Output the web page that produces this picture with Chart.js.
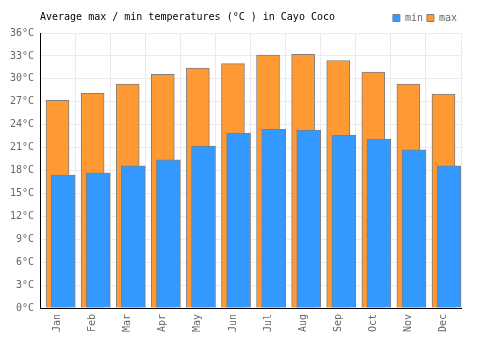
<!DOCTYPE html>
<html>
<head>
<meta charset="utf-8">
<script src="https://cdn.jsdelivr.net/npm/chart.js@4.4.0/dist/chart.umd.min.js"></script>
<style>
  html, body { margin: 0; padding: 0; background: #fff; }
</style>
</head>
<body>
<canvas id="tempChart" width="500" height="350"></canvas>
<script>
const chartTitle = 'Average max / min temperatures (°C ) in Cayo Coco';
const months = ['Jan', 'Feb', 'Mar', 'Apr', 'May', 'Jun', 'Jul', 'Aug', 'Sep', 'Oct', 'Nov', 'Dec'];
const minTemps = [17.4, 17.7, 18.6, 19.4, 21.2, 22.9, 23.4, 23.3, 22.6, 22.1, 20.7, 18.6];
const maxTemps = [27.2, 28.1, 29.3, 30.6, 31.4, 32.0, 33.1, 33.2, 32.4, 30.9, 29.3, 28.0];
const yMin = 0;
const yMax = 36;
const yStep = 3;

const monoFont = { family: '"DejaVu Sans Mono", monospace', size: 10 };

// min bars sit a bit to the right of the max bars
const minShift = 0.16;

const titlePlugin = {
  id: 'leftTitle',
  afterDraw(chart) {
    const ctx = chart.ctx;
    ctx.save();
    ctx.font = '10px "DejaVu Sans Mono", monospace';
    ctx.fillStyle = '#000';
    ctx.textBaseline = 'middle';
    ctx.textAlign = 'left';
    ctx.fillText(chartTitle, chart.chartArea.left, 17);
    ctx.restore();
  }
};

const ctx = document.getElementById('tempChart').getContext('2d');
new Chart(ctx, {
  type: 'bar',
  data: {
    labels: months,
    datasets: [
      {
        label: 'min',
        data: minTemps.map((v, i) => ({ x: i + minShift, y: v })),
        xAxisID: 'x2',
        backgroundColor: '#3399ff',
        borderColor: '#7f7f7f',
        borderWidth: 1,
        barThickness: 24,
        grouped: false
      },
      {
        label: 'max',
        data: maxTemps,
        xAxisID: 'x',
        backgroundColor: '#ff9933',
        borderColor: '#7f7f7f',
        borderWidth: 1,
        barThickness: 23,
        grouped: false
      }
    ]
  },
  options: {
    responsive: false,
    animation: false,
    layout: {
      padding: { left: 0, right: 39, top: 9, bottom: 0 }
    },
    scales: {
      x: {
        type: 'category',
        offset: true,
        grid: { color: '#ebebeb', offset: true, drawTicks: false },
        border: { color: '#000', width: 1 },
        ticks: {
          color: '#666',
          font: monoFont,
          minRotation: 90,
          maxRotation: 90,
          padding: 6
        },
        afterFit(scale) { scale.height = 42; }
      },
      x2: {
        type: 'linear',
        display: false,
        offset: false,
        min: -0.5,
        max: months.length - 0.5
      },
      y: {
        min: yMin,
        max: yMax,
        grid: { color: '#ebebeb', drawTicks: false },
        border: { color: '#000', width: 1 },
        ticks: {
          stepSize: yStep,
          color: '#666',
          font: monoFont,
          padding: 6,
          callback: v => v + '°C'
        },
        afterFit(scale) { scale.width = 40; }
      }
    },
    plugins: {
      legend: {
        display: true,
        position: 'top',
        align: 'end',
        labels: {
          boxWidth: 7,
          boxHeight: 7,
          color: '#666',
          font: monoFont,
          padding: 4
        }
      },
      tooltip: { enabled: false }
    }
  },
  plugins: [titlePlugin]
});
</script>
</body>
</html>
